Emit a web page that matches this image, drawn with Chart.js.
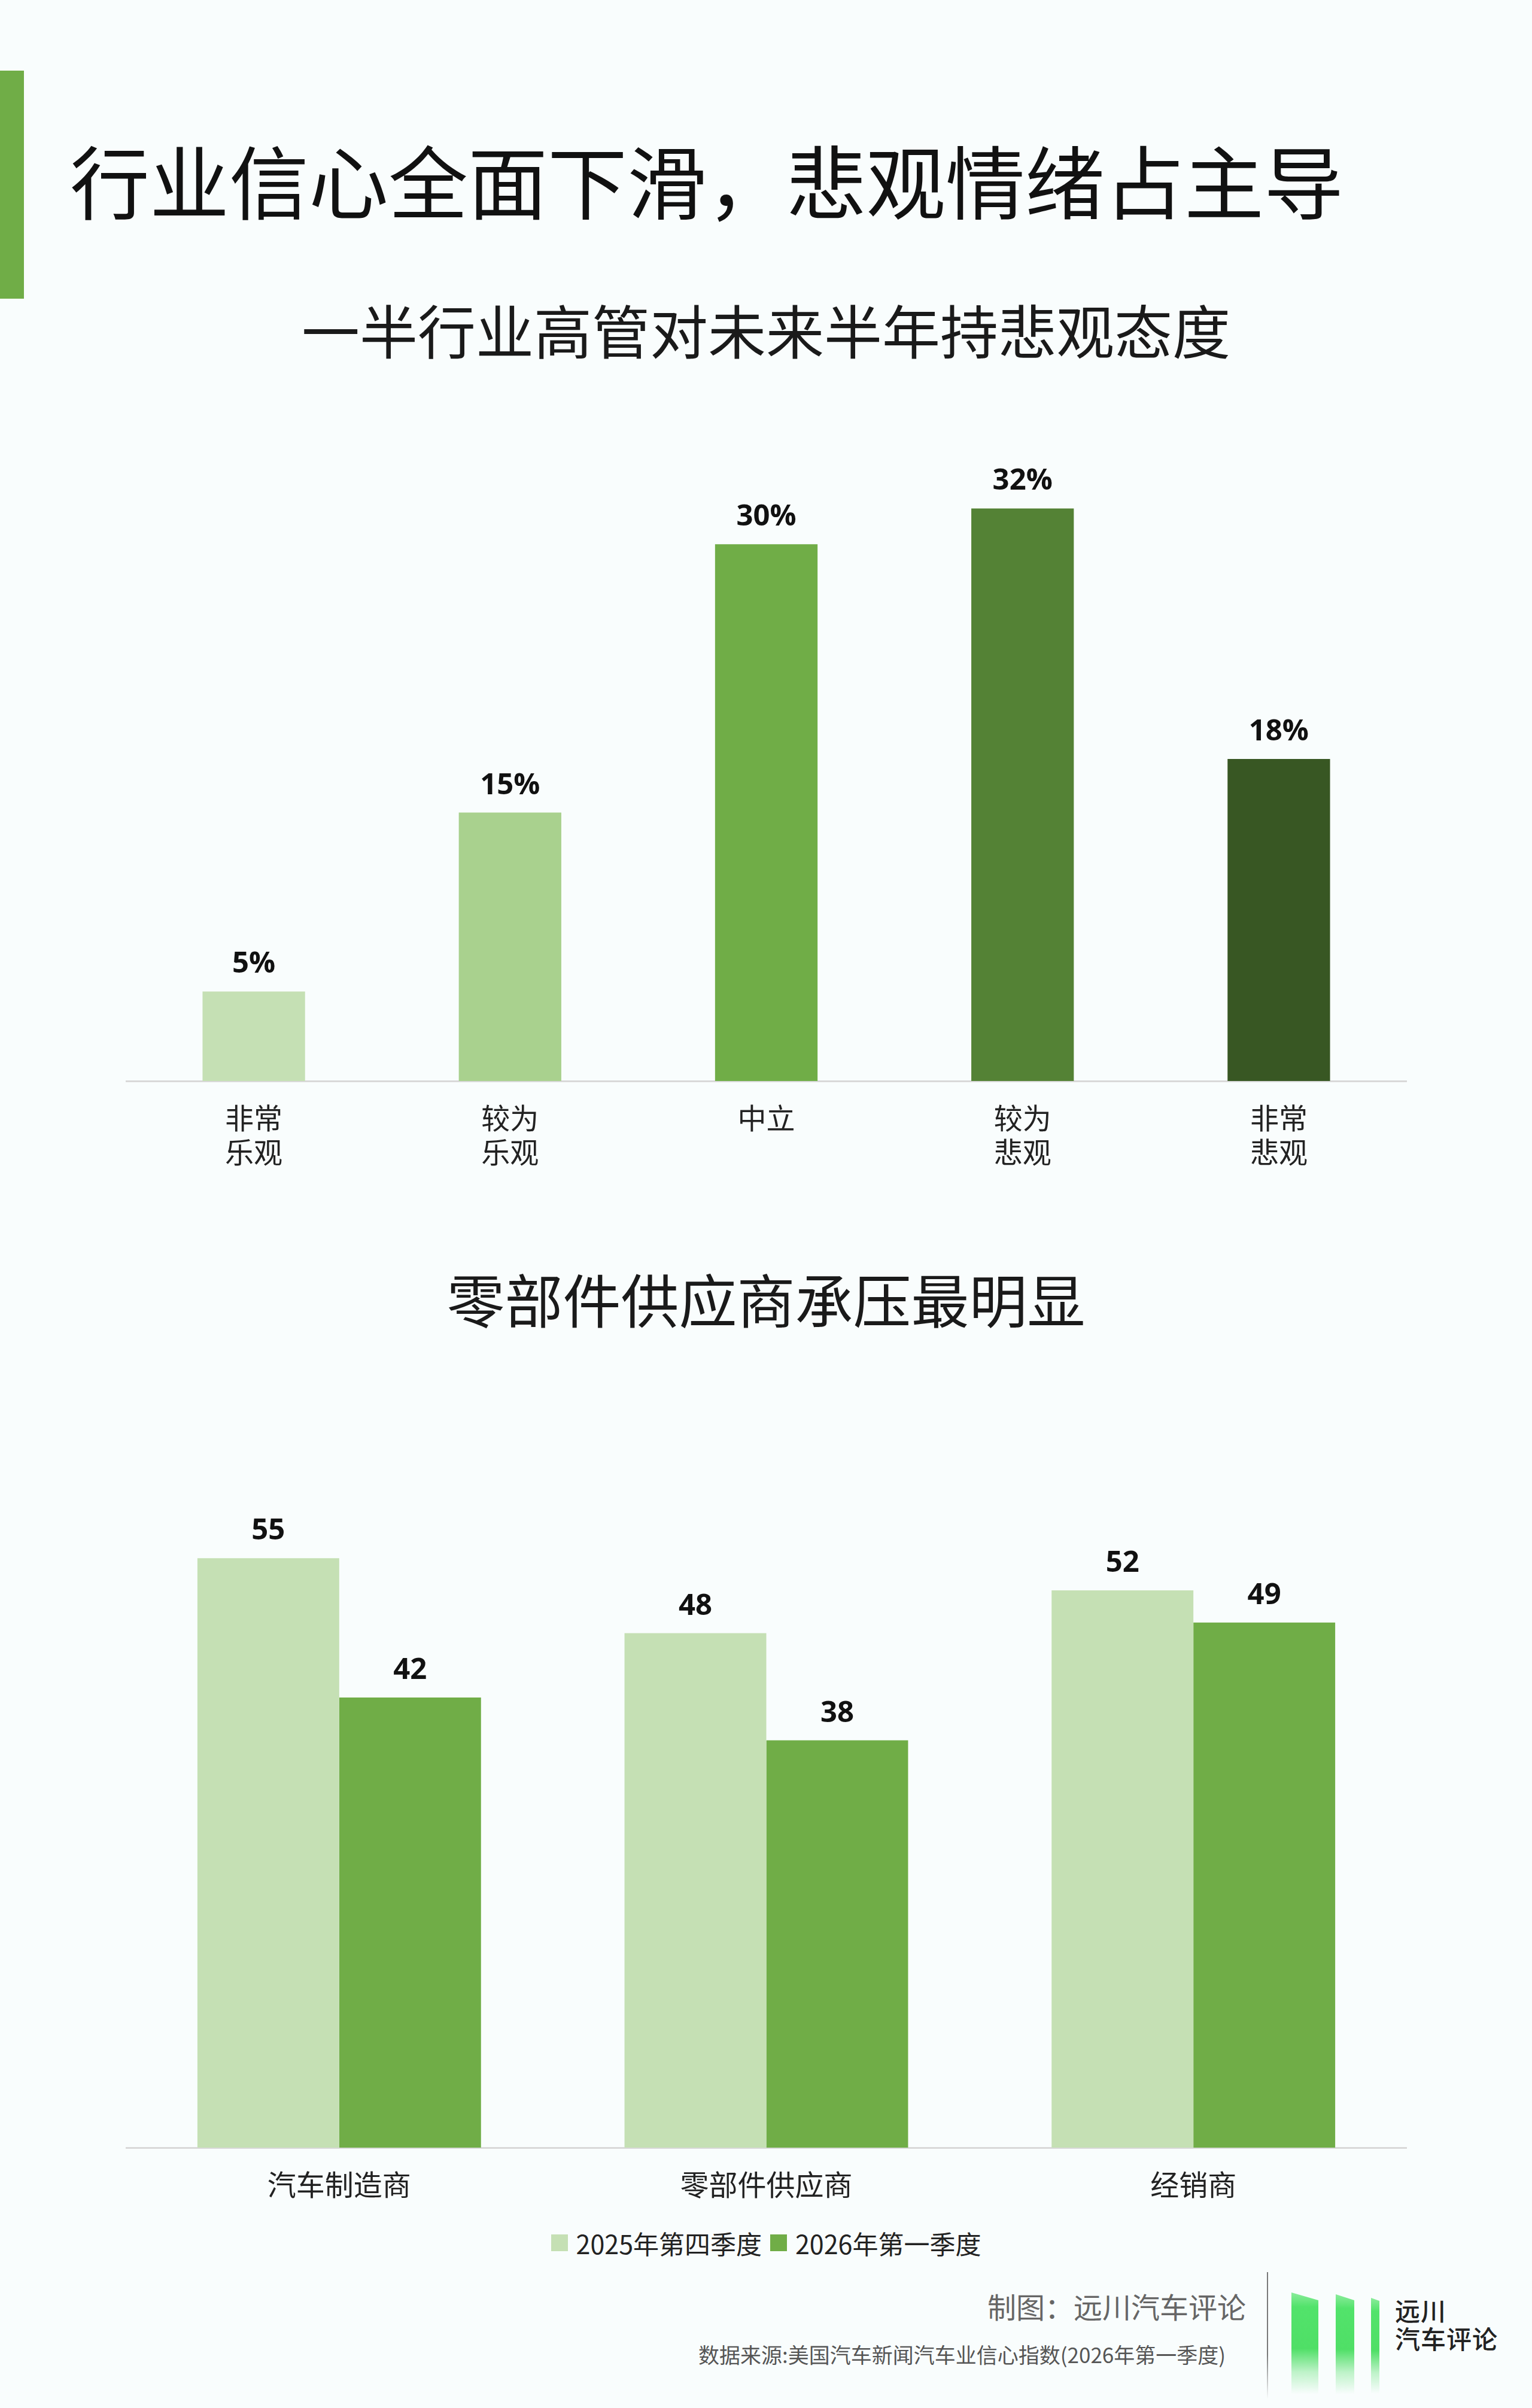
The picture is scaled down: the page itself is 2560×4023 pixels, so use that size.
<!DOCTYPE html>
<html>
<head>
<meta charset="utf-8">
<script src="https://cdn.jsdelivr.net/npm/chart.js@4/dist/chart.umd.min.js"></script>
<style>
  html, body { margin: 0; padding: 0; }
  body {
    width: 2560px; height: 4023px; position: relative; overflow: hidden;
    background: #F9FDFD;
    font-family: "Noto Sans CJK SC", "Noto Sans", sans-serif;
  }
  .abs { position: absolute; white-space: nowrap; }
  #accent { left: 0; top: 118px; width: 40px; height: 381px; background: #70AD47; }
  #title { left: 117px; top: 232px; font-size: 133px; line-height: 133px; color: #111; font-weight: 400; }
  .subtitle { left: 0; width: 2560px; text-align: center; font-size: 97px; line-height: 97px; color: #1a1a1a; }
  #sub1 { top: 500px; }
  #sub2 { top: 2119px; }
  canvas { position: absolute; }
  #c1 { left: 210px; top: 700px; }
  #c2 { left: 210px; top: 2460px; }
  #legend { left: 0; width: 2560px; top: 3723px; height: 48px; display: flex; justify-content: center; align-items: center; font-size: 43px; color: #222; }
  #legend .item { display: flex; align-items: center; margin: 0 7px; }
  #legend .box { width: 28px; height: 28px; margin-right: 14px; }
  #credit { right: 478px; top: 3828px; font-size: 48px; line-height: 48px; color: #666; }
  #source { left: 1167px; top: 3915px; font-size: 35px; line-height: 35px; color: #555; }
  #sep { left: 2117px; top: 3796px; width: 2px; height: 212px; background: linear-gradient(#7a7a7a 0%, #7a7a7a 65%, rgba(122,122,122,0) 100%); }
  .lbar { position: absolute; background: linear-gradient(to bottom, #8BEC9C 0%, #52E36B 14%, #4FDF66 55%, rgba(79,223,102,0.35) 78%, rgba(79,223,102,0) 100%); }
  #lb1 { left: 2158px; top: 3830px; width: 45px; height: 170px; clip-path: polygon(0 0, 100% 13px, 100% 100%, 0 100%); }
  #lb2 { left: 2232px; top: 3833px; width: 31px; height: 167px; clip-path: polygon(0 0, 100% 10px, 100% 100%, 0 100%); }
  #lb3 { left: 2291px; top: 3839px; width: 14px; height: 160px; clip-path: polygon(0 0, 100% 5px, 100% 100%, 0 100%); }
  .ltxt { font-size: 42px; line-height: 42px; color: #222; font-weight: 500; letter-spacing: 1px; }
  #lt1 { left: 2331px; top: 3838px; }
  #lt2 { left: 2331px; top: 3885px; }
</style>
</head>
<body>
<div id="accent" class="abs"></div>
<div id="title" class="abs">行业信心全面下滑，悲观情绪占主导</div>
<div id="sub1" class="abs subtitle">一半行业高管对未来半年持悲观态度</div>
<canvas id="c1" width="2141" height="1306"></canvas>
<div id="sub2" class="abs subtitle">零部件供应商承压最明显</div>
<canvas id="c2" width="2141" height="1248"></canvas>
<div id="legend" class="abs"></div>
<div id="credit" class="abs">制图：远川汽车评论</div>
<div id="source" class="abs">数据来源:美国汽车新闻汽车业信心指数(2026年第一季度)</div>
<div id="sep" class="abs"></div>
<div id="lb1" class="lbar"></div>
<div id="lb2" class="lbar"></div>
<div id="lb3" class="lbar"></div>
<div id="lt1" class="abs ltxt">远川</div>
<div id="lt2" class="abs ltxt">汽车评论</div>

<script>
// ---- Data ----
const sentimentCategories = [['非常', '乐观'], ['较为', '乐观'], ['中立'], ['较为', '悲观'], ['非常', '悲观']];
const sentimentValues = [5, 15, 30, 32, 18];
const sentimentColors = ['#C5E0B4', '#A9D18E', '#70AD47', '#548235', '#385723'];

const segmentCategories = ['汽车制造商', '零部件供应商', '经销商'];
const seriesNames = ['2025年第四季度', '2026年第一季度'];
const seriesQ4_2025 = [55, 48, 52];
const seriesQ1_2026 = [42, 38, 49];
const seriesColors = ['#C5E0B4', '#70AD47'];

// ---- value label plugin ----
const valueLabels = {
  id: 'valueLabels',
  afterDatasetsDraw(chart, args, opts) {
    const ctx = chart.ctx;
    ctx.save();
    ctx.font = 'bold 49px "Open Sans", "Noto Sans", sans-serif';
    ctx.fillStyle = '#111';
    ctx.textAlign = 'center';
    ctx.textBaseline = 'middle';
    chart.data.datasets.forEach((ds, i) => {
      const meta = chart.getDatasetMeta(i);
      meta.data.forEach((el, j) => {
        ctx.fillText(String(ds.data[j]) + (opts.suffix || ''), el.x, el.y - 45);
      });
    });
    ctx.restore();
  }
};

const tickFont = { family: '"Noto Sans CJK SC", sans-serif', size: 48, lineHeight: 1.19 };

function xScale(height) {
  return {
    offset: true,
    grid: { display: false, drawTicks: false },
    border: { display: true, color: '#D9D9D9', width: 3 },
    ticks: { color: '#222', font: tickFont, padding: 33, maxRotation: 0, autoSkip: false },
    afterFit(scale) { scale.height = height; }
  };
}

new Chart(document.getElementById('c1'), {
  type: 'bar',
  data: {
    labels: sentimentCategories,
    datasets: [{
      data: sentimentValues,
      backgroundColor: sentimentColors,
      borderWidth: 0,
      categoryPercentage: 1.0,
      barPercentage: 0.4
    }]
  },
  options: {
    responsive: false,
    animation: false,
    devicePixelRatio: 1,
    layout: { padding: 0 },
    plugins: { legend: { display: false }, tooltip: { enabled: false }, valueLabels: { suffix: '%' } },
    scales: {
      x: xScale(200),
      y: { display: false, min: 0, max: 37 }
    }
  },
  plugins: [valueLabels]
});

new Chart(document.getElementById('c2'), {
  type: 'bar',
  data: {
    labels: segmentCategories,
    datasets: [
      { label: seriesNames[0], data: seriesQ4_2025, backgroundColor: seriesColors[0], borderWidth: 0, categoryPercentage: 0.664, barPercentage: 1.0 },
      { label: seriesNames[1], data: seriesQ1_2026, backgroundColor: seriesColors[1], borderWidth: 0, categoryPercentage: 0.664, barPercentage: 1.0 }
    ]
  },
  options: {
    responsive: false,
    animation: false,
    devicePixelRatio: 1,
    layout: { padding: 0 },
    plugins: { legend: { display: false }, tooltip: { enabled: false }, valueLabels: { suffix: '' } },
    scales: {
      x: xScale(120),
      y: { display: false, min: 0, max: 63 }
    }
  },
  plugins: [valueLabels]
});

// HTML legend built from the series arrays
const lg = document.getElementById('legend');
seriesNames.forEach((name, i) => {
  const item = document.createElement('div');
  item.className = 'item';
  const box = document.createElement('div');
  box.className = 'box';
  box.style.background = seriesColors[i];
  const txt = document.createElement('span');
  txt.textContent = name;
  item.appendChild(box);
  item.appendChild(txt);
  lg.appendChild(item);
});
</script>
</body>
</html>
